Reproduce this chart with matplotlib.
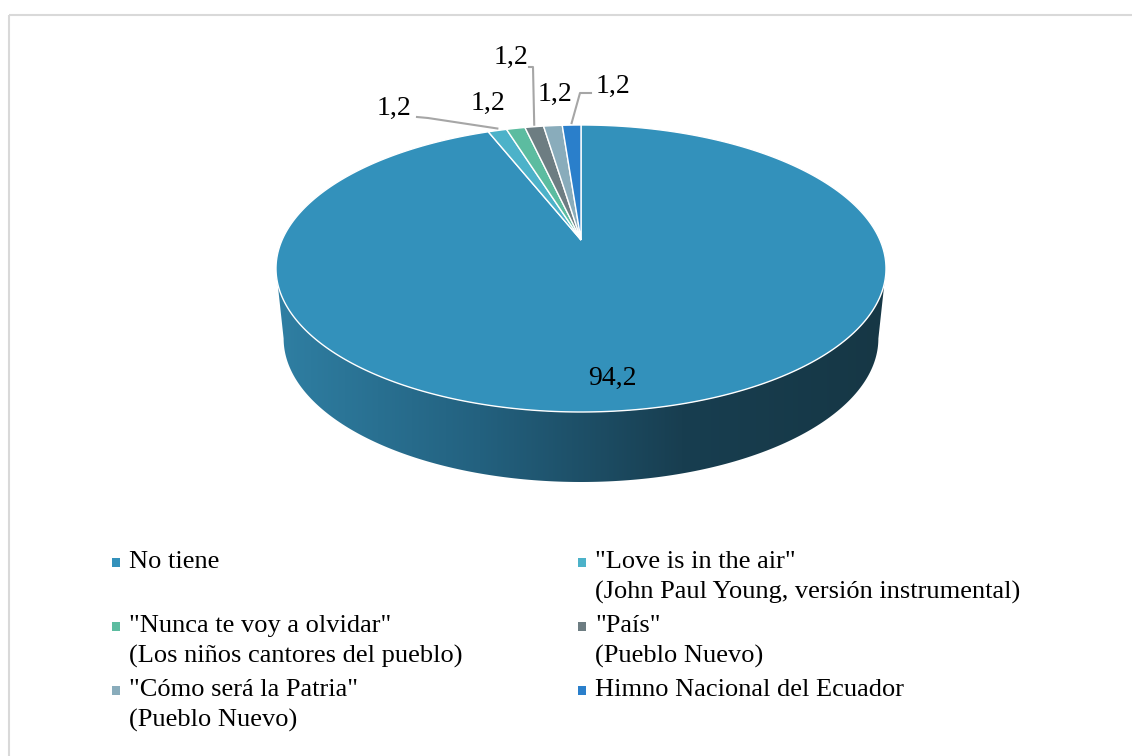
import numpy as np
import matplotlib.pyplot as plt
from matplotlib.colors import LinearSegmentedColormap
from matplotlib.patches import Polygon, Rectangle

plt.rcParams['font.family'] = ['Liberation Serif', 'DejaVu Serif']

# datos del gráfico
categorias = ['No tiene',
              '"Love is in the air"\n(John Paul Young, versión instrumental)',
              '"Nunca te voy a olvidar"\n(Los niños cantores del pueblo)',
              '"País"\n(Pueblo Nuevo)',
              '"Cómo será la Patria"\n(Pueblo Nuevo)',
              'Himno Nacional del Ecuador']
porcentajes = [94.2, 1.2, 1.2, 1.2, 1.2, 1.2]
colores = ['#3391BB', '#4CB2C9', '#5CBCA0', '#6D7D82', '#89ACBB', '#2A7FCB']

fig = plt.figure(figsize=(11.32, 7.56), dpi=100)
ax = fig.add_axes([0, 0, 1, 1])

# geometria del disco en perspectiva (coordenadas en pixeles)
cx, cy = 581, 240          # centro del disco
atras, frente = 115, 172   # distancia al borde posterior / frontal
ancho = 305                # semiancho maximo
grosor = 70
b = (atras - frente) / (atras + frente)
A = atras * (1 - b)
R = ancho * np.sqrt(1 - b**2)


def proyectar(u, v, dy=0.0, esc=1.0):
    den = 1 + b * v
    return cx + esc * R * u / den, cy + dy + A * v / den


def punto(t, dy=0.0, esc=1.0):
    # t: fraccion de vuelta en sentido horario desde las 12
    ang = 2 * np.pi * t
    return proyectar(np.sin(ang), -np.cos(ang), dy, esc)


# lateral del cilindro (solo la parte frontal es visible)
phi = np.linspace(np.arcsin(-b), np.pi - np.arcsin(-b), 200)
xt, yt = proyectar(np.cos(phi), np.sin(phi))
xb, yb = proyectar(np.cos(phi[::-1]), np.sin(phi[::-1]), grosor, 0.975)
lado = Polygon(np.column_stack([np.r_[xt, xb], np.r_[yt, yb]]),
               closed=True, fc='none', ec='none')
ax.add_patch(lado)
grad = LinearSegmentedColormap.from_list(
    'lado', ['#2F7FA3', '#23617F', '#183E50', '#163745'])
img = ax.imshow(np.linspace(0, 1, 256)[None, :], cmap=grad, aspect='auto',
                extent=(xt.min(), xt.max(), yb.max() + 2, yt.min() - 2),
                zorder=1)
img.set_clip_path(lado)

# cara superior
total = sum(porcentajes)
limites = np.r_[0, np.cumsum(porcentajes)] / total
for i, col in enumerate(colores):
    t = np.linspace(limites[i], limites[i + 1],
                    max(3, int(400 * (limites[i + 1] - limites[i]))))
    xs, ys = punto(t)
    ax.fill(np.r_[cx, xs], np.r_[cy, ys], fc=col, ec='white', lw=1.0,
            zorder=2)

# etiquetas de datos
etiquetas = [f'{p:.1f}'.replace('.', ',') for p in porcentajes]
pos_etiquetas = [(612, 378), (394, 108), (488, 103), (511, 57),
                 (555, 94), (613, 86)]
guias = {1: [(417, 117), (428, 118)],
         3: [(529, 67), (533, 67)],
         5: [(591, 93), (580, 93)]}
for i, txt in enumerate(etiquetas):
    x, y = pos_etiquetas[i]
    ax.text(x, y, txt, fontsize=20, ha='center', va='center', zorder=4)
    if i in guias:
        tm = (limites[i] + limites[i + 1]) / 2
        ax_, ay_ = punto(tm)
        pts = guias[i] + [(ax_, ay_ - 2)]
        ax.plot([p[0] for p in pts], [p[1] for p in pts], color='#A6A6A6',
                lw=1.5, zorder=3)

# leyenda en dos columnas
col_x = [129, 595]
fila_y = [562, 626, 690]
for i, (nombre, col) in enumerate(zip(categorias, colores)):
    x = col_x[i % 2]
    y = fila_y[i // 2]
    ax.add_patch(Rectangle((x - 17, y - 4.5), 8, 9, fc=col, ec='none'))
    for j, linea in enumerate(nombre.split('\n')):
        ax.text(x, y + 30 * j, linea, fontsize=19, ha='left', va='center')

# marco del area del grafico
ax.add_patch(Rectangle((8.5, 14.5), 1200, 800, fill=False, ec='#D9D9D9',
                       lw=1.5))

ax.set_xlim(0, 1132)
ax.set_ylim(756, 0)
ax.axis('off')
fig.savefig('out.png', dpi=100)
